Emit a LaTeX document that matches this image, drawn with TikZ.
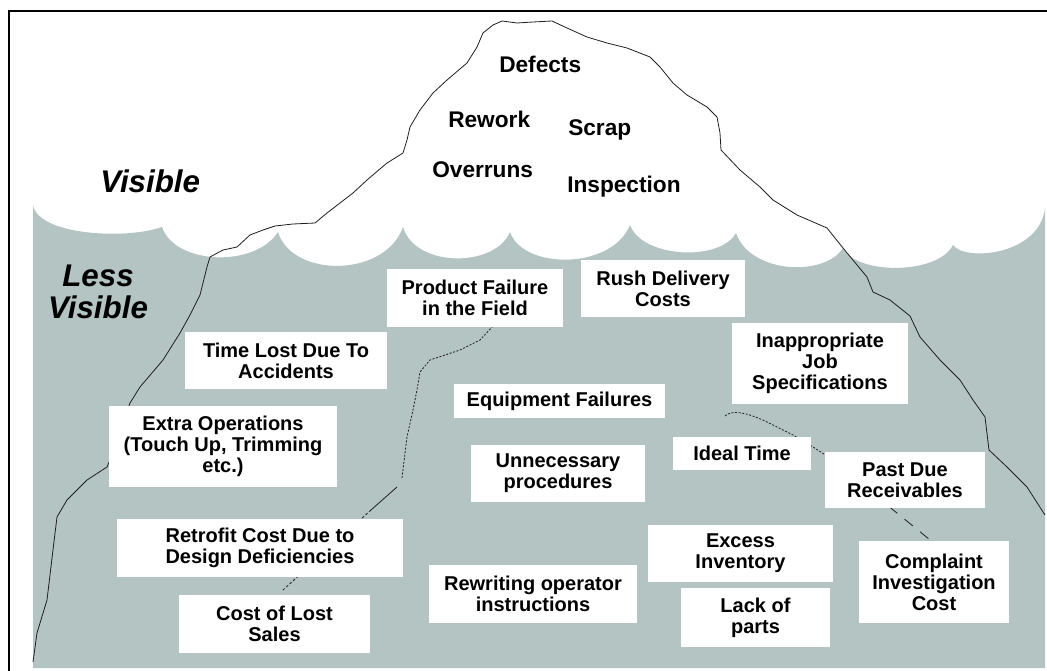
\documentclass[tikz,border=0pt]{standalone}
\usepackage{fontspec}
\setmainfont{Liberation Sans}
\definecolor{sea}{RGB}{180,196,194}
\definecolor{ink}{RGB}{30,30,30}
\begin{document}
\begin{tikzpicture}[x=0.75pt,y=-0.75pt,
  box/.style 2 args={fill=white, inner sep=0pt, align=center,
    minimum width=#1*0.75pt, minimum height=#2*0.75pt,
    font=\bfseries\fontsize{15}{15.75}\selectfont},
  toplabel/.style={anchor=base west, inner sep=0pt, font=\bfseries\fontsize{17}{20}\selectfont},
  zonelabel/.style={inner sep=0pt, align=center, font=\bfseries\itshape\fontsize{23.5}{24}\selectfont},
  outline/.style={draw=ink, line width=0.6pt, line join=round},
  fineline/.style={draw=ink, line width=0.6pt, dash pattern=on 1.5pt off 1.2pt},
  longdash/.style={draw=ink, line width=0.6pt, dash pattern=on 8pt off 7pt},
  frameline/.style={draw=black, line width=1.5pt}]
\useasboundingbox (0,0) rectangle (1047,671);

% sea (less visible zone)
\fill[sea] (33,668) -- (33,205)
  .. controls (38,235) and (125,240) .. (162,227)
  .. controls (175,265) and (255,268) .. (278,232)
  .. controls (292,278) and (385,278) .. (403,227)
  .. controls (415,268) and (495,268) .. (510,232)
  .. controls (523,270) and (612,270) .. (630,225)
  .. controls (642,258) and (720,262) .. (736,233)
  .. controls (750,274) and (825,277) .. (843,248)
  .. controls (856,275) and (938,275) .. (953,245)
  .. controls (965,262) and (1040,255) .. (1045,208)
  -- (1045,668) -- cycle;

% frame
\draw[frameline] (9,671) -- (9,11) -- (1047,11);

% iceberg outline
\draw[outline] (33,662) -- (37,633) -- (47,600) -- (53,550) -- (57,517) -- (67,500)
  -- (87,480) -- (107,467) -- (110,460) -- (130,403) -- (140,387) -- (163,360)
  -- (180,333) -- (190,315) -- (200,295) -- (207,267) -- (210,257) -- (223,250)
  -- (237,247) -- (250,235) -- (263,230) -- (275,226) -- (293,224) -- (315,223)
  -- (327,213) -- (340,203) -- (353,193) -- (367,180) -- (387,163) -- (403,153)
  -- (407,140) -- (410,127) -- (420,110) -- (433,93) -- (447,80) -- (467,63)
  -- (477,47) -- (483,33) -- (493,25) -- (502,21) -- (517,23) -- (533,22)
  -- (552,21) -- (567,28) -- (587,37) -- (607,43) -- (627,48) -- (650,57)
  -- (660,67) -- (673,83) -- (687,95) -- (707,107) -- (717,117) -- (720,133)
  -- (721,150) -- (740,170) -- (760,187) -- (773,200) -- (797,215) -- (827,228)
  -- (843,248) -- (867,277) -- (873,292) -- (890,300) -- (910,316) -- (920,337)
  -- (940,360) -- (960,380) -- (973,400) -- (985,417) -- (989,450) -- (1007,467)
  -- (1027,487) -- (1045,515);

% inner dashed outlines
\draw[fineline] (493,326) -- (480,340) -- (460,350) -- (430,360) -- (420,372)
  -- (417,390) -- (413,410) -- (407,437) -- (402,478);
\draw[outline] (397,487) -- (371,510);
\draw[draw=ink, line width=0.6pt, dash pattern=on 2pt off 1.5pt] (371,510) -- (283,590);
\draw[fineline] (725,416) .. controls (730,411) and (742,410) .. (767,422)
  -- (793,435) -- (813,447) -- (827,456);
\draw[longdash] (827,456) -- (935,544);

% boxes
\node[box={176}{58}] (pf) at (475,298) {Product Failure\\in the Field};
\node[box={164}{57}] (rd) at (663,288.5) {Rush Delivery\\Costs};
\node[box={202}{57}] (tl) at (286,360.5) {Time Lost Due To\\Accidents};
\node[box={176}{81}] (ij) at (820,363.5) {Inappropriate\\Job\\Specifications};
\node[box={211}{34}] (ef) at (559.5,401) {Equipment Failures};
\node[box={228}{81}] (eo) at (223,446.5) {Extra Operations\\(Touch Up, Trimming\\etc.)};
\node[box={174}{57}] (up) at (558,473.5) {Unnecessary\\procedures};
\node[box={138}{33}] (it) at (742,453.5) {Ideal Time};
\node[box={160}{56}] (pd) at (905,480) {Past Due\\Receivables};
\node[box={286}{58}] (rc) at (260,548) {Retrofit Cost Due to\\Design Deficiencies};
\node[box={185}{57}] (ei) at (740.5,553.5) {Excess\\Inventory};
\node[box={150}{82}] (ci) at (934,582) {Complaint\\Investigation\\Cost};
\node[box={208}{58}] (ro) at (533,594) {Rewriting operator\\instructions};
\node[box={149}{59}] (lp) at (755.5,617.5) {Lack of\\parts};
\node[box={191}{58}] (cl) at (274.5,624) {Cost of Lost\\Sales};

% visible tip labels
\node[toplabel] (defects) at (499,72) {Defects};
\node[toplabel] (rework) at (448,127) {Rework};
\node[toplabel] (scrap) at (568,135) {Scrap};
\node[toplabel] (overruns) at (432,177) {Overruns};
\node[toplabel] (inspection) at (567,192) {Inspection};

% zone labels
\node[zonelabel, anchor=base west] (visible) at (100,192) {Visible};
\node[zonelabel] (lessvisible) at (98,292) {Less\\Visible};
\end{tikzpicture}
\end{document}
